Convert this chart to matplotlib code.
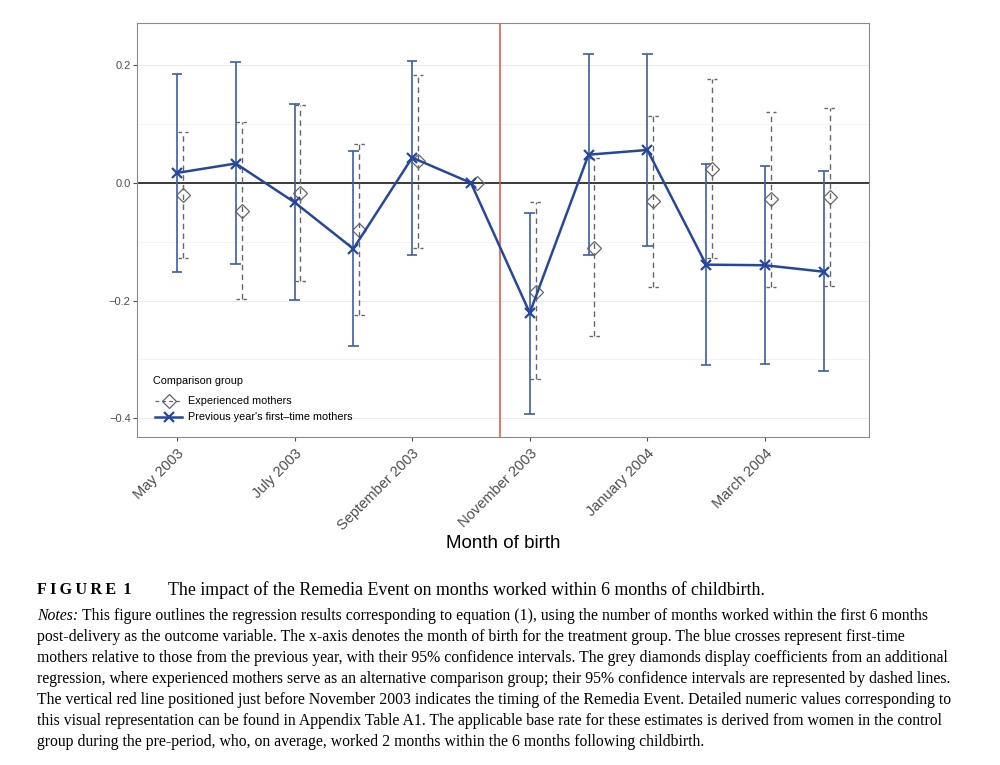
import matplotlib
matplotlib.use('Agg')
import matplotlib.pyplot as plt
import numpy as np

plt.rcParams['font.family'] = ['Liberation Sans', 'DejaVu Sans']

months = ['May 2003', 'June 2003', 'July 2003', 'August 2003', 'September 2003', 'October 2003',
          'November 2003', 'December 2003', 'January 2004', 'February 2004', 'March 2004', 'April 2004']

# previous year's first-time mothers (blue crosses)
first_est = [0.017, 0.033, -0.033, -0.112, 0.043, 0.0, -0.221, 0.048, 0.056, -0.139, -0.140, -0.151]
first_lo = [-0.152, -0.138, -0.199, -0.277, -0.123, np.nan, -0.393, -0.123, -0.108, -0.310, -0.308, -0.320]
first_hi = [0.186, 0.205, 0.134, 0.054, 0.208, np.nan, -0.051, 0.220, 0.220, 0.032, 0.029, 0.020]

# experienced mothers (grey diamonds)
exp_est = [-0.021, -0.047, -0.017, -0.080, 0.037, 0.0, -0.185, -0.110, -0.031, 0.024, -0.028, -0.024]
exp_lo = [-0.127, -0.198, -0.166, -0.224, -0.110, np.nan, -0.333, -0.261, -0.177, -0.128, -0.177, -0.175]
exp_hi = [0.087, 0.104, 0.132, 0.067, 0.183, np.nan, -0.033, 0.043, 0.114, 0.177, 0.121, 0.127]

event_pos = 5.5

title_text = "The impact of the Remedia Event on months worked within 6 months of childbirth."
notes_lines = [
    "This figure outlines the regression results corresponding to equation (1), using the number of months worked within the first 6 months",
    "post-delivery as the outcome variable. The x-axis denotes the month of birth for the treatment group. The blue crosses represent first-time",
    "mothers relative to those from the previous year, with their 95% confidence intervals. The grey diamonds display coefficients from an additional",
    "regression, where experienced mothers serve as an alternative comparison group; their 95% confidence intervals are represented by dashed lines.",
    "The vertical red line positioned just before November 2003 indicates the timing of the Remedia Event. Detailed numeric values corresponding to",
    "this visual representation can be found in Appendix Table A1. The applicable base rate for these estimates is derived from women in the control",
    "group during the pre-period, who, on average, worked 2 months within the 6 months following childbirth.",
]

blue = '#26489c'
blue_bar = '#3d5fa6'
grey = '#666666'
dodge = 0.1

fig = plt.figure(figsize=(10, 7.65), dpi=100)
ax = fig.add_axes([0.137, 0.4288, 0.732, 0.5412])

x = np.arange(len(months))
xe = x + dodge

ax.set_yticks([-0.4, -0.2, 0.0, 0.2])
ax.set_yticks([-0.3, -0.1, 0.1], minor=True)
ax.grid(True, axis='y', which='major', color='#ebebeb', lw=0.8)
ax.grid(True, axis='y', which='minor', color='#f3f3f3', lw=0.6)
ax.set_axisbelow(True)

ax.axhline(0, color='#3a3a3a', lw=1.4, zorder=1)
ax.axvline(event_pos, color='#e0533f', lw=1.1, zorder=1)

# experienced mothers: dashed intervals and hollow diamonds
lo = np.array(exp_lo)
hi = np.array(exp_hi)
ok = ~np.isnan(lo)
ax.vlines(xe[ok], lo[ok], hi[ok], colors=grey, lw=1.0, linestyles=(0, (4, 3)), zorder=2)
for yy in (lo[ok], hi[ok]):
    ax.hlines(yy, xe[ok] - 0.09, xe[ok] + 0.09, colors=grey, lw=1.0, linestyles=(0, (2.5, 2.5)), zorder=2)
ax.plot(xe, exp_est, linestyle='none', marker='D', ms=7, mfc='none', mec=grey, mew=0.9, zorder=3)

# first-time mothers: solid intervals and crosses
lo = np.array(first_lo)
hi = np.array(first_hi)
ok = ~np.isnan(lo)
ax.vlines(x[ok], lo[ok], hi[ok], colors=blue_bar, lw=1.2, zorder=2)
for yy in (lo[ok], hi[ok]):
    ax.hlines(yy, x[ok] - 0.09, x[ok] + 0.09, colors=blue_bar, lw=1.2, zorder=2)
ax.plot(x, first_est, color=blue, lw=1.8, marker='x', ms=7, mew=1.6, zorder=4)

# legend
h_exp, = ax.plot([], [], color=grey, lw=0.9, linestyle=(0, (3, 2.5)), marker='D', ms=7, mfc='none', mec=grey, mew=0.9)
h_first, = ax.plot([], [], color=blue, lw=1.8, marker='x', ms=7, mew=1.6)
ax.legend([h_exp, h_first], ["Experienced mothers", "Previous year's first\u2013time mothers"],
          loc='center left', bbox_to_anchor=(0.0246, 0.0664), borderpad=0, borderaxespad=0,
          frameon=False, fontsize=7.8, handlelength=2.5, labelspacing=0.55, handletextpad=0.55)
ax.text(0.0215, (437 - 381) / 414, "Comparison group", transform=ax.transAxes,
        fontsize=7.8, va='center', ha='left')

ax.set_xlim(-0.68, 11.77)
ax.set_ylim(-0.432, 0.272)
ax.set_xticks(x[::2])
ax.set_xticklabels(months[::2], rotation=45, ha='right', va='top', rotation_mode='anchor',
                   fontsize=10.5, color='#4d4d4d')
ax.tick_params(axis='y', labelsize=8, labelcolor='#4d4d4d', pad=1.5)
ax.tick_params(axis='both', which='major', color='#4d4d4d', length=3, width=0.8)
ax.tick_params(axis='both', which='minor', length=0)
for s in ax.spines.values():
    s.set_color('#8a8a8a')
    s.set_linewidth(0.8)
ax.set_xlabel("Month of birth", fontsize=13.5)
ax.xaxis.set_label_coords(0.5, -0.236)

# caption
serif = ['Liberation Serif', 'DejaVu Serif']
fig.text(0.037, 1 - 590 / 765, "F\u2009I\u2009G\u2009U\u2009R\u2009E \u20091", family=serif,
         weight='bold', fontsize=11.6, va='center')
fig.text(0.168, 1 - 590 / 765, title_text, family=serif, fontsize=12.9, va='center')

fig.canvas.draw()
r = fig.canvas.get_renderer()
y0 = 616
nfs = 11.3
for i, line in enumerate(notes_lines):
    yy = 1 - (y0 + 21 * i) / 765
    if i == 0:
        t = fig.text(0.037, yy, "Notes: ", family=serif, style='italic', fontsize=nfs, va='center')
        w = t.get_window_extent(renderer=r).width / fig.bbox.width
        fig.text(0.037 + w, yy, line, family=serif, fontsize=nfs, va='center')
    else:
        fig.text(0.037, yy, line, family=serif, fontsize=nfs, va='center')

fig.savefig('out.png', dpi=100)
